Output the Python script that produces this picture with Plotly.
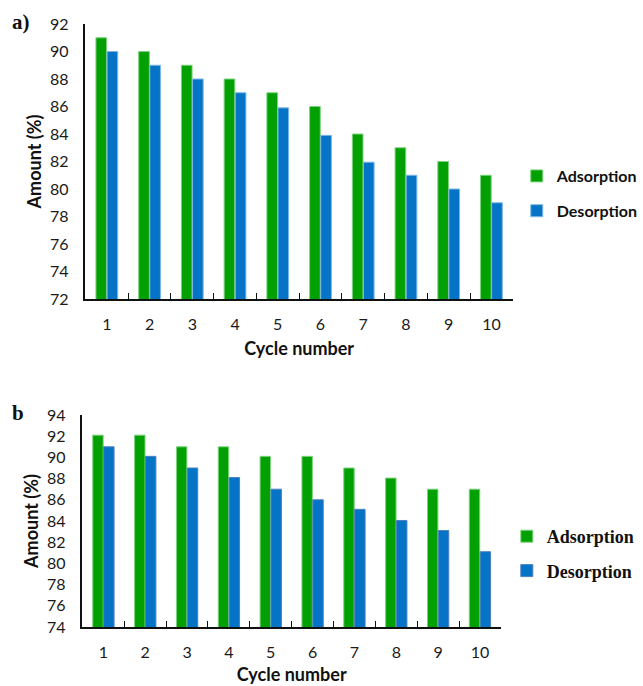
import plotly.graph_objects as go

# Cycle numbers shared by both panels
cycles = ["1", "2", "3", "4", "5", "6", "7", "8", "9", "10"]

# Panel a) values (%)
ads_a = [91, 90, 89, 88, 87, 86, 84, 83, 82, 81]
des_a = [90, 89, 88, 87, 85.9, 83.9, 81.95, 81, 80, 79]

# Panel b values (%)
ads_b = [92.1, 92.1, 91, 91, 90.1, 90.1, 89, 88.05, 87, 87]
des_b = [91, 90.1, 89, 88.1, 87, 86, 85.1, 84.05, 83.1, 81.1]

yticks_a = list(range(72, 93, 2))
yticks_b = list(range(74, 95, 2))

GREEN = "#03A003"
GREEN_EDGE = "#7ED37E"
BLUE = "#0574C6"
BLUE_EDGE = "#7FB7E3"

SANS = "Lato"
SERIF = "Liberation Serif"

fig = go.Figure()

fig.add_trace(go.Bar(x=cycles, y=ads_a, name="Adsorption", xaxis="x", yaxis="y",
                     marker=dict(color=GREEN, line=dict(color=GREEN_EDGE, width=1)),
                     legend="legend", legendgroup="a1"))
fig.add_trace(go.Bar(x=cycles, y=des_a, name="Desorption", xaxis="x", yaxis="y",
                     marker=dict(color=BLUE, line=dict(color=BLUE_EDGE, width=1)),
                     legend="legend", legendgroup="a2"))
fig.add_trace(go.Bar(x=cycles, y=ads_b, name="Adsorption", xaxis="x2", yaxis="y2",
                     marker=dict(color=GREEN, line=dict(color=GREEN_EDGE, width=1)),
                     legend="legend2", legendgroup="b1"))
fig.add_trace(go.Bar(x=cycles, y=des_b, name="Desorption", xaxis="x2", yaxis="y2",
                     marker=dict(color=BLUE, line=dict(color="#4F7FC0", width=1)),
                     legend="legend2", legendgroup="b2"))

tick_font = dict(family=SANS, size=16, color="#1a1a1a")
title_font = dict(family=SANS, size=18, color="#111", weight="bold")

xaxis_common = dict(type="category", showline=True, linecolor="#111", linewidth=1.5,
                    ticks="inside", ticklen=6, tickcolor="#111", tickson="boundaries",
                    tickfont=tick_font, ticklabelstandoff=10, showgrid=False,
                    zeroline=False, automargin=False)
yaxis_common = dict(showline=True, linecolor="#111", linewidth=1.5, ticks="",
                    tickfont=tick_font, ticklabelstandoff=12, showgrid=False,
                    zeroline=False, automargin=False)

fig.update_layout(
    width=643, height=686,
    margin=dict(l=0, r=0, t=0, b=0),
    paper_bgcolor="white", plot_bgcolor="white",
    barmode="group", bargap=0.48, bargroupgap=0.04,
    xaxis=dict(domain=[86 / 643, 516 / 643], anchor="y",
               title=dict(text="Cycle number", font=title_font, standoff=10),
               **xaxis_common),
    yaxis=dict(domain=[1 - 299 / 686, 1 - 24 / 686], anchor="x", range=[72, 92],
               tickvals=yticks_a,
               title=dict(text="Amount (%)", font=title_font, standoff=4),
               **yaxis_common),
    xaxis2=dict(domain=[83 / 643, 504 / 643], anchor="y2",
                title=dict(text="Cycle number", font=title_font, standoff=8),
                **xaxis_common),
    yaxis2=dict(domain=[1 - 627 / 686, 1 - 415 / 686], anchor="x2", range=[74, 94],
                tickvals=yticks_b,
                title=dict(text="Amount (%)", font=title_font, standoff=4),
                **yaxis_common),
    legend=dict(x=520 / 643, y=1 - 159 / 686, xanchor="left", yanchor="top",
                font=dict(family=SANS, size=16, color="#111", weight="bold"),
                tracegroupgap=11, bgcolor="rgba(0,0,0,0)"),
    legend2=dict(x=510 / 643, y=1 - 518 / 686, xanchor="left", yanchor="top",
                 font=dict(family=SERIF, size=18, color="#111", weight="bold"),
                 tracegroupgap=8, bgcolor="rgba(0,0,0,0)"),
    annotations=[
        dict(text="a)", x=10 / 643, y=1 - 22 / 686, xref="paper", yref="paper",
             xanchor="left", yanchor="middle", showarrow=False,
             font=dict(family=SERIF, size=21, color="#111", weight="bold")),
        dict(text="b", x=10 / 643, y=1 - 413 / 686, xref="paper", yref="paper",
             xanchor="left", yanchor="middle", showarrow=False,
             font=dict(family=SERIF, size=21, color="#111", weight="bold")),
    ],
)

fig.write_html("out.html")
